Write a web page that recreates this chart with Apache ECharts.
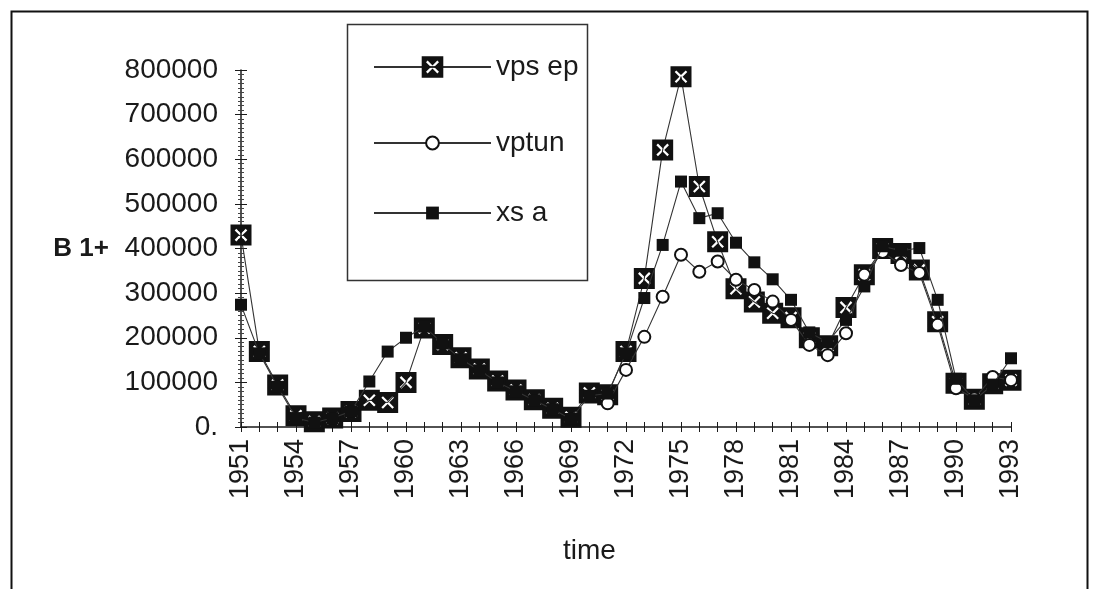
<!DOCTYPE html>
<html>
<head>
<meta charset="utf-8">
<script src="https://cdn.jsdelivr.net/npm/echarts@6/dist/echarts.min.js"></script>
<style>
  html, body { margin: 0; padding: 0; background: #fff; }
  #chart { width: 1094px; height: 589px; }
</style>
</head>
<body>
<div id="chart"></div>
<script>
// Years on the horizontal axis
const years = [];
for (let y = 1951; y <= 1993; y++) years.push(String(y));

// Series values, one per year 1951..1993 (null = no observation)
const vpsep = [430000, 169000, 94000, 25000, 12000, 20000, 35000, 60000, 55000, 100000,
  222000, 185000, 155000, 130000, 103000, 83000, 61000, 42000, 22000, 76000,
  72000, 169000, 333000, 621000, 785000, 539000, 415000, 310000, 280000, 255000,
  245000, 200000, 182000, 268000, 341000, 400000, 389000, 352000, 236000, 98000,
  62000, 97000, 105000];
const vptun = [null, null, null, null, null, null, null, null, null, null,
  null, null, null, null, null, null, null, null, null, null,
  53000, 128000, 202000, 292000, 386000, 348000, 371000, 330000, 307000, 281000,
  240000, 184000, 161000, 210000, 341000, 392000, 363000, 345000, 229000, 87000,
  64000, 112000, 105000];
const xsa = [274000, 165000, 90000, 20000, 10000, 20000, 35000, 102000, 169000, 200000,
  225000, 187000, 152000, 127000, 100000, 80000, 60000, 40000, 18000, 70000,
  75000, 165000, 289000, 408000, 550000, 468000, 479000, 413000, 369000, 331000,
  285000, 212000, 190000, 240000, 315000, 405000, 395000, 401000, 285000, 108000,
  60000, 95000, 154000];

// Value-axis tick settings
const yMin = 0, yMax = 800000, yStep = 100000;

// Black square with a white cross cut out of it
const crossBox = 'path://M0 0H20V20H0Z M8.5 10L4 14.5L5.5 16L10 11.5L14.5 16L16 14.5L11.5 10L16 5.5L14.5 4L10 8.5L5.5 4L4 5.5Z';

const ink = '#1a1a1a';
const font = 'Liberation Sans, Arial, sans-serif';

const chart = echarts.init(document.getElementById('chart'), null, { renderer: 'canvas' });

const lineStyle = { color: '#333', width: 1.1 };

chart.setOption({
  animation: false,
  backgroundColor: '#fff',
  grid: { left: 241, right: 83, top: 70, bottom: 162, containLabel: false },
  xAxis: [
    {
      type: 'category',
      data: years,
      boundaryGap: false,
      axisLine: { lineStyle: { color: ink, width: 1.5 } },
      axisTick: { show: true, interval: 0, length: 5, lineStyle: { color: ink, width: 1 } },
      axisLabel: {
        interval: 2, rotate: 90, margin: 12,
        color: ink, fontFamily: font, fontSize: 27
      },
      splitLine: { show: false }
    },
    {
      type: 'category',
      data: years,
      boundaryGap: false,
      position: 'bottom',
      axisLine: { show: false },
      axisTick: { show: true, inside: true, interval: 0, length: 5, lineStyle: { color: ink, width: 1 } },
      axisLabel: { show: false },
      splitLine: { show: false }
    }
  ],
  yAxis: [
    {
      type: 'value',
      min: yMin, max: yMax, interval: yStep,
      name: 'B 1+',
      nameLocation: 'middle',
      nameRotate: 0,
      nameGap: 132,
      nameTextStyle: { color: ink, fontFamily: font, fontSize: 26, fontWeight: 'bold' },
      axisLine: { show: true, lineStyle: { color: ink, width: 1.5 } },
      axisTick: { show: true, length: 6, lineStyle: { color: ink, width: 1 } },
      minorTick: { show: true, splitNumber: 10, length: 3, lineStyle: { color: '#444', width: 1 } },
      axisLabel: {
        margin: 23, color: ink, fontFamily: font, fontSize: 28,
        formatter: v => (v === 0 ? '0.' : String(v))
      },
      splitLine: { show: false }
    },
    {
      type: 'value',
      min: yMin, max: yMax, interval: yStep,
      position: 'left',
      axisLine: { show: false },
      axisTick: { show: true, inside: true, length: 6, lineStyle: { color: ink, width: 1 } },
      minorTick: { show: true, splitNumber: 10, length: 3, lineStyle: { color: '#444', width: 1 } },
      axisLabel: { show: false },
      splitLine: { show: false }
    }
  ],
  legend: [
    {
      data: ['vps ep'], left: 368, top: 48, orient: 'vertical',
      itemWidth: 117, itemHeight: 27, selectedMode: false,
      textStyle: { color: ink, fontFamily: font, fontSize: 28 }
    },
    {
      data: ['vptun'], left: 368, top: 124, orient: 'vertical',
      itemWidth: 117, itemHeight: 16, selectedMode: false,
      textStyle: { color: ink, fontFamily: font, fontSize: 28 }
    },
    {
      data: ['xs a'], left: 368, top: 194, orient: 'vertical',
      itemWidth: 117, itemHeight: 16, selectedMode: false,
      textStyle: { color: ink, fontFamily: font, fontSize: 28 }
    }
  ],
  graphic: [
    {
      type: 'rect', left: 9, top: 9, z: -1,
      shape: { width: 1076, height: 620 },
      style: { fill: 'none', stroke: '#111', lineWidth: 2 }
    },
    {
      type: 'rect', left: 345, top: 22,
      shape: { width: 240, height: 256 },
      style: { fill: 'none', stroke: '#333', lineWidth: 1.5 }
    },
    {
      type: 'text', left: 563, top: 537,
      style: { text: 'time', fill: ink, font: '28px ' + font }
    }
  ],
  series: [
    {
      name: 'vps ep', type: 'line', data: vpsep,
      symbol: crossBox, symbolSize: 21, showAllSymbol: true,
      itemStyle: { color: '#111' }, lineStyle: lineStyle, z: 2
    },
    {
      name: 'vptun', type: 'line', data: vptun,
      symbol: 'emptyCircle', symbolSize: 12, showAllSymbol: true,
      itemStyle: { color: '#111', borderWidth: 1.2 }, lineStyle: lineStyle, z: 3
    },
    {
      name: 'xs a', type: 'line', data: xsa,
      symbol: 'rect', symbolSize: 12, showAllSymbol: true,
      itemStyle: { color: '#111' }, lineStyle: lineStyle, z: 4
    }
  ]
});
</script>
</body>
</html>
